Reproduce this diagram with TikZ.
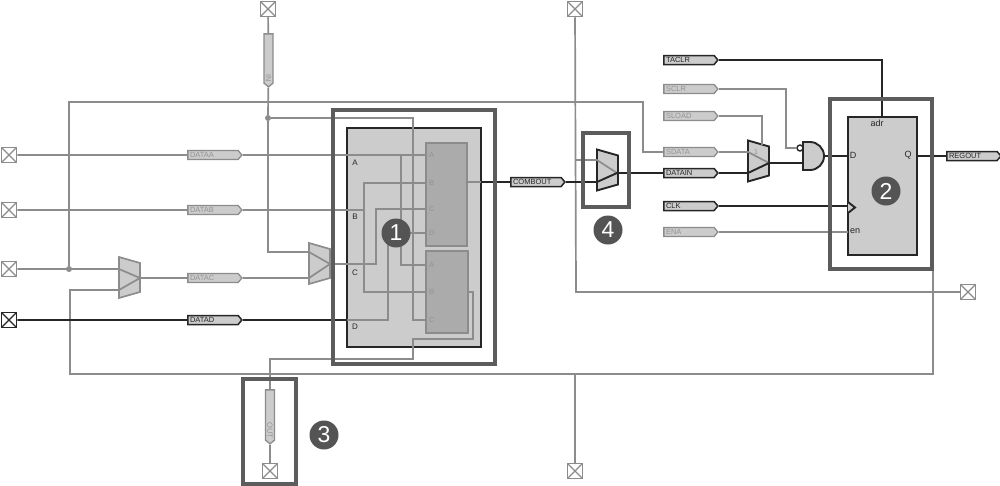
\documentclass[tikz,border=0pt]{standalone}
\usepackage{fontspec}
\setmainfont{Liberation Sans}
\usetikzlibrary{shapes.symbols}
\definecolor{wirefade}{gray}{0.55}
\definecolor{wiredark}{gray}{0.15}
\definecolor{frameline}{gray}{0.36}
\definecolor{cellfill}{gray}{0.8}
\definecolor{lutfill}{gray}{0.67}
\definecolor{badgefill}{gray}{0.33}
\tikzset{
	faded/.style={draw=wirefade,line width=1.7pt},
	strong/.style={draw=wiredark,line width=1.9pt},
	pinbox/.style={fill=white,minimum size=15pt,inner sep=0pt,line width=1.5pt,
		path picture={\draw[line width=1.1pt] (path picture bounding box.north west) -- (path picture bounding box.south east)
			(path picture bounding box.north east) -- (path picture bounding box.south west);}},
	tagnode/.style={signal,signal to=east,signal pointer angle=100,fill=cellfill,minimum width=54pt,minimum height=9pt,
		inner sep=0pt,text width=46pt,align=left,font=\fontsize{7.5}{7.5}\selectfont},
	tagfade/.style={tagnode,draw=wirefade,line width=1.3pt,text=gray!85},
	tagdark/.style={tagnode,draw=wiredark,line width=1.5pt,text=wiredark},
	framebox/.style={draw=frameline,line width=3.6pt},
	lutbox/.style={draw=wirefade,line width=1.6pt,fill=lutfill},
	lutpin/.style={anchor=west,inner xsep=2pt,inner ysep=0pt,text=gray!85,font=\fontsize{7.5}{8}\selectfont},
	cellpin/.style={inner sep=0pt,text=wiredark,font=\fontsize{8}{8}\selectfont},
	dotnode/.style={circle,fill=wirefade,minimum size=6pt,inner sep=0pt},
	badgenode/.style={circle,fill=badgefill,text=white,minimum size=29pt,inner sep=0pt,font=\fontsize{23}{23}\selectfont}
}
\newcommand{\muxshape}[3]{\draw[#1,fill=cellfill] (#2,#3-20.5) -- (#2+21,#3-14.5) -- (#2+21,#3+14.5) -- (#2,#3+20.5) -- cycle;}
\begin{document}
\begin{tikzpicture}[x=1pt,y=-1pt]
	\useasboundingbox (0,0) rectangle (1000,485);
	\fill[white] (0,0) rectangle (1000,485);
	% cells
	\node[draw=wiredark,line width=1.8pt,fill=cellfill,minimum width=134pt,minimum height=219pt,inner sep=0pt] (lutcell) at (414,237.5) {};
	\node[lutbox,minimum width=41pt,minimum height=103pt,inner sep=0pt] (lutup) at (446.5,194.5) {};
	\node[lutbox,minimum width=42pt,minimum height=82pt,inner sep=0pt] (lutlow) at (447,292) {};
	\node[draw=wiredark,line width=1.8pt,fill=cellfill,minimum width=69pt,minimum height=138pt,inner sep=0pt] (regcell) at (882.5,186) {};
	\muxshape{faded}{119}{277.5}
	\muxshape{faded}{309}{263.5}
	\muxshape{strong}{597}{170}
	\muxshape{strong}{748}{161}
	\draw[strong,fill=cellfill] (803,142) -- (810,142) arc (-90:90:14) -- (803,170) -- cycle;
	\node[draw=wiredark,line width=1.4pt,circle,fill=white,minimum size=6pt,inner sep=0pt] (andinv) at (800,148) {};
	% pins
	\node[pinbox,draw=wirefade] (pina) at (9,155) {};
	\node[pinbox,draw=wirefade] (pinb) at (9,210) {};
	\node[pinbox,draw=wirefade] (pinc) at (9,269) {};
	\node[pinbox,draw=wiredark] (pind) at (9,320) {};
	\node[pinbox,draw=wirefade] (pintopa) at (268,9) {};
	\node[pinbox,draw=wirefade] (pintopb) at (575,9) {};
	\node[pinbox,draw=wirefade] (pinlowa) at (270,471) {};
	\node[pinbox,draw=wirefade] (pinlowb) at (575,471) {};
	\node[pinbox,draw=wirefade] (pinright) at (968,292) {};
	% tags
	\node[tagfade] (dataa) at (213,155) {DATAA};
	\node[tagfade] (datab) at (213,210) {DATAB};
	\node[tagfade] (datac) at (213,278) {DATAC};
	\node[tagdark] (datad) at (213,320) {DATAD};
	\node[tagdark] (combout) at (536,182) {COMBOUT};
	\node[tagdark] (taclr) at (689,60) {TACLR};
	\node[tagfade] (sclr) at (689,89) {SCLR};
	\node[tagfade] (sload) at (689,116) {SLOAD};
	\node[tagfade] (sdata) at (689,152) {SDATA};
	\node[tagdark] (datain) at (689,173) {DATAIN};
	\node[tagdark] (clk) at (689,206) {CLK};
	\node[tagfade] (ena) at (689,232) {ENA};
	\node[tagdark] (regout) at (972,156) {REGOUT};
	\node[tagfade,rotate=-90,minimum width=53pt,align=right] (barin) at (268.5,58.5) {IN};
	\node[tagfade,rotate=-90,minimum width=54pt,align=right] (barout) at (270,415) {OUT};
	% lut pins
	\node[lutpin] (upa) at (427,155) {A};
	\node[lutpin] (upb) at (427,183) {B};
	\node[lutpin] (upc) at (427,209) {C};
	\node[lutpin] (upd) at (427,233) {D};
	\node[lutpin] (lowa) at (427,265) {A};
	\node[lutpin] (lowb) at (427,292) {B};
	\node[lutpin] (lowc) at (427,320) {C};
	\node[cellpin] (cella) at (355,163) {A};
	\node[cellpin] (cellb) at (355,217) {B};
	\node[cellpin] (cellc) at (355,273) {C};
	\node[cellpin] (celld) at (355,327) {D};
	\node[cellpin,font=\fontsize{9}{9}\selectfont] (regadr) at (877,123) {adr};
	\node[cellpin,font=\fontsize{9}{9}\selectfont] (regd) at (853,155) {D};
	\node[cellpin,font=\fontsize{9}{9}\selectfont] (regq) at (908,155) {Q};
	\node[cellpin,font=\fontsize{9}{9}\selectfont] (regen) at (855,231) {en};
	\node[inner sep=0pt,text=gray!85,font=\fontsize{7}{7}\selectfont] (muxone) at (756,152) {1};
	% joints
	\node[dotnode] (jointc) at (69,269) {};
	\node[dotnode] (jointin) at (268,118) {};
	\node[dotnode,minimum size=4pt] (jointq) at (933,156) {};
	\coordinate (muxaup) at (119,269);
	\coordinate (muxalow) at (119,290);
	\coordinate (muxaout) at (140,278);
	\coordinate (muxbup) at (309,252);
	\coordinate (muxblow) at (309,278);
	\coordinate (muxbout) at (330,264);
	\coordinate (muxcup) at (597,160);
	\coordinate (muxclow) at (597,182);
	\coordinate (muxcout) at (617,173);
	\coordinate (muxdup) at (748,152);
	\coordinate (muxdlow) at (748,173);
	\coordinate (muxdsel) at (762,145);
	\coordinate (muxdout) at (769,163);
	\coordinate (celldin) at (347,320);
	\coordinate (celldout) at (481,182);
	\coordinate (lutupout) at (467,182);
	\coordinate (lutlowout) at (468,292);
	\coordinate (routea) at (401,155);
	\coordinate (routeb) at (364,210);
	\coordinate (routec) at (376,264);
	\coordinate (routed) at (388,320);
	\coordinate (routetop) at (413,118);
	\coordinate (routeout) at (413,359);
	\coordinate (routeturn) at (413,339);
	\coordinate (routeright) at (473,339);
	\coordinate (lowline) at (70,374);
	\coordinate (lowlineend) at (933,374);
	\coordinate (lowlinemid) at (575,374);
	\coordinate (topleft) at (69,102);
	\coordinate (topright) at (643,102);
	\coordinate (sclrturn) at (786,89);
	\coordinate (vertb) at (576,160);
	\coordinate (vertturn) at (576,292);
	\coordinate (andin) at (803,163);
	\coordinate (andout) at (824,156);
	\coordinate (regdin) at (848,156);
	\coordinate (regqout) at (917,156);
	\coordinate (regtop) at (882,117);
	\coordinate (regclk) at (848,206);
	\coordinate (regena) at (848,232);
	% faded wires
	\draw[faded] (pina) -- (dataa) -- (upa.west);
	\draw[faded] (pinb) -- (datab) -- (routeb);
	\draw[faded] (upb.west) -| (routeb) |- (lowb.west);
	\draw[faded] (routea) |- (lowa.west);
	\draw[faded] (pinc) -- (muxaup) -- (muxaout) -- (datac) -- (muxblow) -- (muxbout);
	\draw[faded] (muxbout) -- (routec) |- (upc.west);
	\draw[faded] (jointc) |- (topleft) -- (topright) |- (sdata);
	\draw[faded] (sdata) -- (muxdup) -- (muxdout);
	\draw[faded] (muxaout) -- (muxalow) -| (lowline) -- (lowlineend) |- (jointq);
	\draw[faded] (lowlinemid) -- (pinlowb);
	\draw[faded] (pintopa) -- (barin) -- (jointin) |- (muxbup) -- (muxbout);
	\draw[faded] (jointin) -- (routetop) |- (lowc.west);
	\draw[faded] (celldin) -- (routed) |- (upd.west);
	\draw[faded] (pinlowa) -- (barout) -- (pinlowa |- routeout) -- (routeout) -- (routeturn) -- (routeright) |- (lutlowout);
	\draw[faded] (lutupout) -- (celldout);
	\draw[faded] (pintopb) -- (vertturn) -- (pinright);
	\draw[faded] (vertb) -- (muxcup) -- (muxcout);
	\draw[faded] (sclr) -| (sclrturn) |- (andinv.west);
	\draw[faded] (sload) -| (muxdsel);
	\draw[faded] (ena) -- (regena);
	% dark wires
	\draw[strong] (pind) -- (datad) -- (celldin);
	\draw[strong] (celldout) -- (combout) -- (muxclow) -- (muxcout) -- (datain) -- (muxdlow) -- (muxdout) -- (muxdout -| andin);
	\draw[strong] (andout) -- (regdin);
	\draw[strong] (regqout) -- (regout);
	\draw[strong] (taclr) -| (regtop);
	\draw[strong] (clk) -- (regclk);
	\draw[strong,fill=cellfill] (848,202) -- (855,207.5) -- (848,213);
	% frames
	\draw[framebox] (333,110) rectangle (495,364);
	\draw[framebox] (830,99) rectangle (932,269);
	\draw[framebox] (243,379) rectangle (296,484);
	\draw[framebox] (583,133) rectangle (629,207);
	% badges
	\node[badgenode] (badgea) at (396,233) {1};
	\node[badgenode] (badgeb) at (886,191) {2};
	\node[badgenode] (badgec) at (324,435) {3};
	\node[badgenode] (badged) at (608,230) {4};
\end{tikzpicture}
\end{document}
